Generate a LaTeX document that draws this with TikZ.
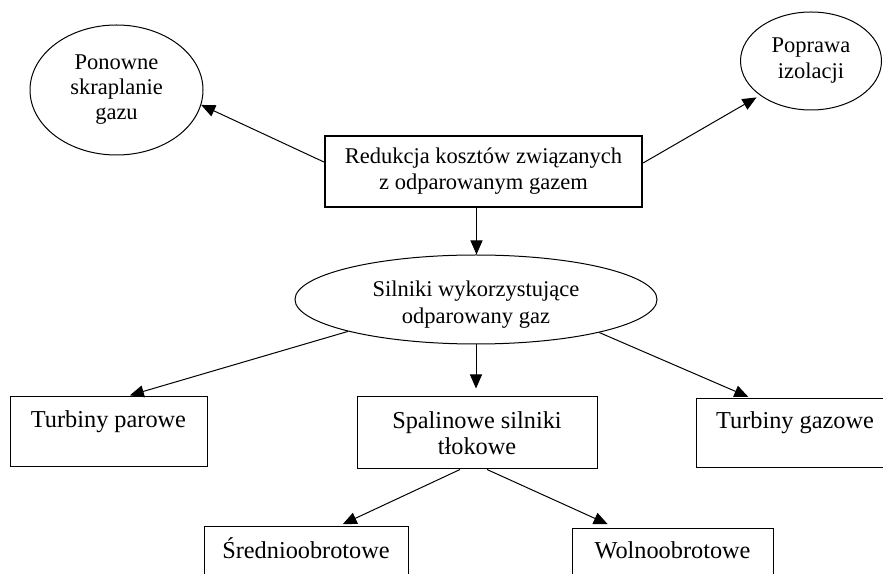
\documentclass[tikz,border=0pt]{standalone}
\usepackage{fontspec}
\setmainfont{Liberation Serif}
\usetikzlibrary{arrows.meta,shapes.geometric}
\begin{document}
\begin{tikzpicture}[x=1pt,y=1pt,
  every node/.style={font=\fontsize{22.5}{26}\selectfont, align=center, inner sep=0pt},
  oval/.style={draw, ellipse, line width=1pt},
  box/.style={draw, rectangle, line width=1pt, font=\fontsize{24.3}{26}\selectfont},
  mainbox/.style={draw, rectangle, line width=2.2pt},
  arr/.style={-{Triangle[length=14pt,width=12pt]}, line width=1pt}]
\useasboundingbox (0,0) rectangle (883,573);
\clip (0,0) rectangle (883,573);

\node[oval, minimum width=173pt, minimum height=130pt, font=\fontsize{22.5}{25}\selectfont] (L) at (116.5,483) {Ponowne\\skraplanie\\gazu};
\node[oval, minimum width=141pt, minimum height=98pt] (R) at (811,512) {Poprawa\\izolacji};
\node[mainbox, minimum width=317pt, minimum height=71pt] (M) at (483.5,401.5) {Redukcja kosztów związanych\\z odparowanym gazem};
\node[oval, minimum width=362pt, minimum height=89pt, font=\fontsize{22.5}{27}\selectfont] (S) at (476,273.5) {\rule{0pt}{26pt}Silniki wykorzystujące\\odparowany gaz};

\node[box, minimum width=197pt, minimum height=70pt] (TP) at (108.5,141) {Turbiny parowe\\\mbox{}};
\node[box, minimum width=240pt, minimum height=72pt] (SP) at (477,140) {Spalinowe silniki\\tłokowe};
\node[box, minimum width=198pt, minimum height=69pt] (TG) at (795,139.5) {Turbiny gazowe\\\mbox{}};
\node[box, minimum width=204pt, minimum height=70pt] (SR) at (306,12) {Średnioobrotowe\\\mbox{}};
\node[box, minimum width=201pt, minimum height=70pt] (WO) at (672.5,10) {Wolnoobrotowe\\\mbox{}};

\draw[arr] ([yshift=9.5pt]M.west) -- (L.-10.2);
\draw[arr, shorten >=4pt] ([yshift=8.5pt]M.east) -- (R.214);
\draw[arr] ([xshift=-7pt]M.south) -- ([xshift=-7pt]M.south |- S.north);
\draw[arr, shorten >=4pt] (S.194) -- ([xshift=17.5pt]TP.north);
\draw[arr, shorten >=8pt] (S.south) -- (S.south |- SP.north);
\draw[arr, shorten >=4pt] (S.-15.5) -- ([xshift=-43pt]TG.north);
\draw[arr, shorten >=3pt] ([xshift=-17pt]SP.south) -- ([xshift=34pt]SR.north);
\draw[arr, shorten >=8pt] ([xshift=10pt]SP.south) -- ([xshift=-57.5pt]WO.north);
\end{tikzpicture}
\end{document}
